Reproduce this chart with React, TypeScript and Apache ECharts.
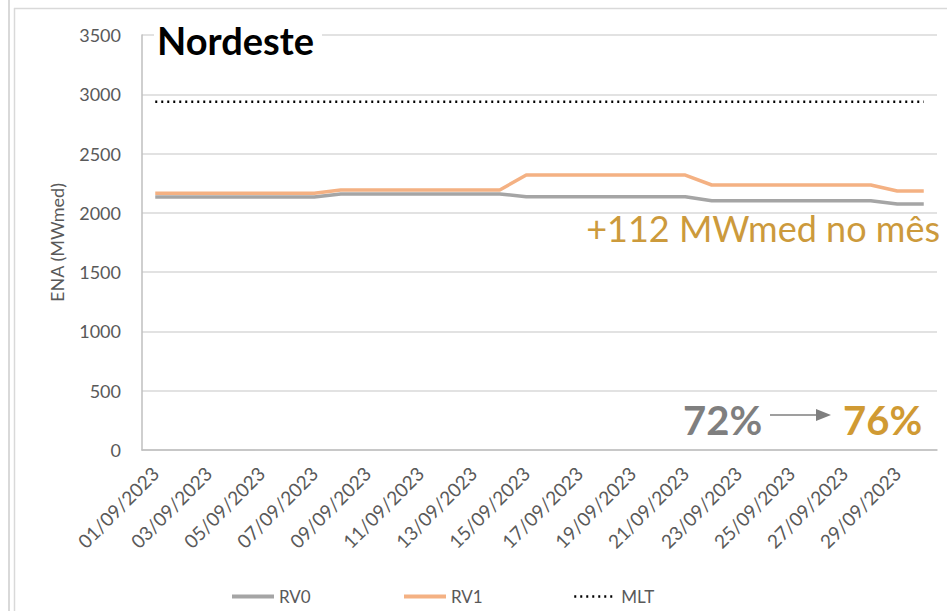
import React, { useEffect, useRef } from "react";
import * as echarts from "echarts";

const categories = [
  "01/09/2023", "02/09/2023", "03/09/2023", "04/09/2023", "05/09/2023",
  "06/09/2023", "07/09/2023", "08/09/2023", "09/09/2023", "10/09/2023",
  "11/09/2023", "12/09/2023", "13/09/2023", "14/09/2023", "15/09/2023",
  "16/09/2023", "17/09/2023", "18/09/2023", "19/09/2023", "20/09/2023",
  "21/09/2023", "22/09/2023", "23/09/2023", "24/09/2023", "25/09/2023",
  "26/09/2023", "27/09/2023", "28/09/2023", "29/09/2023", "30/09/2023",
];

const rv0 = [
  2134, 2134, 2134, 2134, 2134, 2134, 2134,
  2159, 2159, 2159, 2159, 2159, 2159, 2159,
  2136, 2136, 2136, 2136, 2136, 2136, 2136,
  2103, 2103, 2103, 2103, 2103, 2103, 2103,
  2075, 2075,
];

const rv1 = [
  2165, 2165, 2165, 2165, 2165, 2165, 2165,
  2193, 2193, 2193, 2193, 2193, 2193, 2193,
  2319, 2319, 2319, 2319, 2319, 2319, 2319,
  2235, 2235, 2235, 2235, 2235, 2235, 2235,
  2184, 2184,
];

const mlt = [
  2937, 2937, 2937, 2937, 2937, 2937, 2937, 2937, 2937, 2937,
  2937, 2937, 2937, 2937, 2937, 2937, 2937, 2937, 2937, 2937,
  2937, 2937, 2937, 2937, 2937, 2937, 2937, 2937, 2937, 2937,
];

const seriesNames = ["RV0", "RV1", "MLT"];
const title = "Nordeste";
const deltaText = "+112 MWmed no mês";
const pctBefore = "72%";
const pctAfter = "76%";
const yAxisName = "ENA (MWmed)";

const FONT = "Lato, 'Open Sans', sans-serif";
const LABEL = "#595959";

export default function App() {
  const ref = useRef<HTMLDivElement>(null);
  useEffect(() => {
    if (!ref.current) return;
    const chart = echarts.init(ref.current, undefined, { renderer: "svg" });
    const legendBase = {
      top: 583,
      itemWidth: 42,
      itemHeight: 14,
      itemGap: 0,
      itemStyle: { opacity: 0 },
      textStyle: { color: LABEL, fontSize: 17, fontFamily: FONT },
    };
    chart.setOption({
      animation: false,
      backgroundColor: "#ffffff",
      textStyle: { fontFamily: FONT },
      grid: { left: 142, top: 35, width: 795, height: 415, containLabel: false },
      legend: [
        { ...legendBase, left: 225, data: [seriesNames[0]], lineStyle: { width: 4 } },
        { ...legendBase, left: 397, data: [seriesNames[1]], lineStyle: { width: 4 } },
        { ...legendBase, left: 568, data: [seriesNames[2]], lineStyle: { width: 2.5 } },
      ],
      xAxis: {
        type: "category",
        data: categories,
        boundaryGap: true,
        axisLine: { lineStyle: { color: "#bfbfbf", width: 1.5 } },
        axisTick: { show: false },
        axisLabel: {
          interval: 1,
          rotate: 45,
          margin: 20,
          color: LABEL,
          fontSize: 19,
          fontFamily: FONT,
        },
        splitLine: { show: false },
      },
      yAxis: {
        type: "value",
        min: 0,
        max: 3500,
        interval: 500,
        name: yAxisName,
        nameLocation: "middle",
        nameGap: 76,
        nameTextStyle: { color: LABEL, fontSize: 18, fontFamily: FONT },
        axisLine: { show: true, lineStyle: { color: "#bfbfbf", width: 1.5 } },
        axisTick: { show: false },
        axisLabel: {
          color: LABEL,
          fontSize: 18,
          margin: 21,
          fontFamily: FONT,
          formatter: (v: number) => String(v),
        },
        splitLine: { lineStyle: { color: "#d9d9d9", width: 1.5 } },
      },
      series: [
        {
          name: seriesNames[0],
          type: "line",
          data: rv0,
          symbol: "none",
          lineStyle: { color: "#a5a5a5", width: 3.5 },
          itemStyle: { color: "#a5a5a5" },
          z: 3,
        },
        {
          name: seriesNames[1],
          type: "line",
          data: rv1,
          symbol: "none",
          lineStyle: { color: "#f4b183", width: 3.5 },
          itemStyle: { color: "#f4b183" },
          z: 4,
        },
        {
          name: seriesNames[2],
          type: "line",
          data: mlt,
          symbol: "none",
          lineStyle: { color: "#000000", width: 2.5, type: [2, 4] },
          itemStyle: { color: "#000000" },
          z: 2,
        },
      ],
      graphic: [
        { type: "line", shape: { x1: 9, y1: 0, x2: 9, y2: 611 }, style: { stroke: "#d9d9d9", lineWidth: 2 } },
        { type: "line", shape: { x1: 14.5, y1: 8, x2: 14.5, y2: 611 }, style: { stroke: "#d9d9d9", lineWidth: 1.5 } },
        { type: "line", shape: { x1: 14, y1: 8.5, x2: 947, y2: 8.5 }, style: { stroke: "#d9d9d9", lineWidth: 1.5 } },
        { type: "rect", shape: { x: 154, y: 30, width: 168, height: 10 }, style: { fill: "#ffffff" }, z: 10 },
        {
          type: "text",
          x: 157,
          y: 40,
          z: 11,
          style: {
            text: title,
            fill: "#000000",
            font: `bold 38px ${FONT}`,
            textVerticalAlign: "middle",
          },
        },
        {
          type: "text",
          x: 940,
          y: 228,
          z: 11,
          style: {
            text: deltaText,
            fill: "#cc9a3c",
            font: `36px ${FONT}`,
            textAlign: "right",
            textVerticalAlign: "middle",
          },
        },
        {
          type: "text",
          x: 683,
          y: 420,
          z: 11,
          style: {
            text: pctBefore,
            fill: "#7f7f7f",
            font: `bold 40px ${FONT}`,
            textVerticalAlign: "middle",
          },
        },
        { type: "line", shape: { x1: 770, y1: 415, x2: 820, y2: 415 }, style: { stroke: "#7f7f7f", lineWidth: 1.5 }, z: 11 },
        {
          type: "polygon",
          shape: { points: [[816, 409], [831, 415], [816, 421]] },
          style: { fill: "#7f7f7f" },
          z: 11,
        },
        {
          type: "text",
          x: 843,
          y: 420,
          z: 11,
          style: {
            text: pctAfter,
            fill: "#d09a33",
            font: `bold 40px ${FONT}`,
            textVerticalAlign: "middle",
          },
        },
      ],
    });
    return () => chart.dispose();
  }, []);
  return (
    <div
      ref={ref}
      style={{ position: "absolute", left: 0, top: 0, width: 947, height: 611, background: "#fff" }}
    />
  );
}
